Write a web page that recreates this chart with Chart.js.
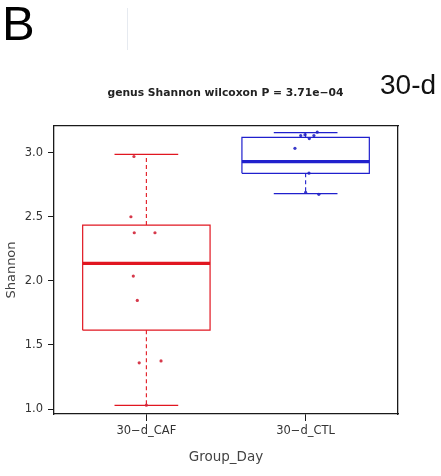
<!DOCTYPE html>
<html>
<head>
<meta charset="utf-8">
<script src="https://cdn.jsdelivr.net/npm/chart.js@4/dist/chart.umd.min.js"></script>
<style>
  body { margin: 0; background: #fff; }
  #wrap { position: relative; width: 441px; height: 476px; }
  #chart { position: absolute; left: 0; top: 0; }
  .txt { position: absolute; white-space: nowrap; line-height: 1; }
  #panel { left: 2px; top: -5px; font: 49px 'Liberation Sans', Arial, sans-serif; color: #000; }
  #tag { left: 380px; top: 69px; font: 28px 'Liberation Sans', Arial, sans-serif; color: #111; }
  #title { left: 0; width: 451px; text-align: center; top: 86px;
           font: bold 10.75px 'DejaVu Sans', sans-serif; color: #222; }
  #mark { position: absolute; left: 127px; top: 8px; width: 1px; height: 42px; background: #e6eaf0; }
</style>
</head>
<body>
<div id="wrap">
  <canvas id="chart" width="441" height="476"></canvas>
  <div class="txt" id="panel">B</div>
  <div id="mark"></div>
  <div class="txt" id="title">genus Shannon wilcoxon P = 3.71e−04</div>
  <div class="txt" id="tag">30-d</div>
</div>
<script>
// группы и статистика боксплотов
const groups = ['30−d_CAF', '30−d_CTL'];
const whiskerLow = [1.029, 2.68];
const q1 = [1.615, 2.839];
const median = [2.136, 2.93];
const q3 = [2.435, 3.12];
const whiskerHigh = [2.987, 3.156];

// отдельные точки и их сдвиг по x (jitter)
const cafValues = [2.97, 2.50, 2.375, 2.375, 2.037, 1.847, 1.36, 1.375, 1.03];
const cafJitter = [-0.078, -0.097, -0.076, 0.054, -0.082, -0.057, -0.045, 0.092, 0.0];
const ctlValues = [3.16, 3.133, 3.14, 3.133, 3.11, 3.034, 2.84, 2.69, 2.675];
const ctlJitter = [0.073, -0.031, -0.004, 0.052, 0.023, -0.067, 0.021, 0.0, 0.083];

const yTicks = [1.0, 1.5, 2.0, 2.5, 3.0];

const colors = ['rgb(225, 22, 32)', 'rgb(32, 32, 205)'];
const pointColors = ['rgba(210, 35, 55, 0.9)', 'rgba(35, 35, 195, 0.9)'];
const font = "'DejaVu Sans', sans-serif";
const axisColor = '#1a1a1a';

function line(points, color, width, dash) {
  return {
    data: points,
    showLine: true,
    borderColor: color,
    borderWidth: width,
    borderDash: dash || [],
    pointRadius: 0,
    fill: false,
  };
}

// боксплот одной группы собираем из линий
function boxDatasets(i) {
  const x = i + 1;
  const c = colors[i];
  return [
    line([{x: x - 0.4, y: q1[i]}, {x: x + 0.4, y: q1[i]}, {x: x + 0.4, y: q3[i]},
          {x: x - 0.4, y: q3[i]}, {x: x - 0.4, y: q1[i]}], c, 1.2),
    line([{x: x - 0.4, y: median[i]}, {x: x + 0.4, y: median[i]}], c, 3.2),
    line([{x: x, y: q3[i]}, {x: x, y: whiskerHigh[i]}], c, 1.1, [4, 3]),
    line([{x: x, y: q1[i]}, {x: x, y: whiskerLow[i]}], c, 1.1, [4, 3]),
    line([{x: x - 0.2, y: whiskerHigh[i]}, {x: x + 0.2, y: whiskerHigh[i]}], c, 1.3),
    line([{x: x - 0.2, y: whiskerLow[i]}, {x: x + 0.2, y: whiskerLow[i]}], c, 1.3),
  ];
}

function pointDataset(values, jitter, i) {
  return {
    data: values.map((v, k) => ({x: i + 1 + jitter[k], y: v})),
    showLine: false,
    pointRadius: 1.6,
    pointBorderWidth: 0,
    pointBackgroundColor: pointColors[i],
  };
}

const datasets = [
  pointDataset(cafValues, cafJitter, 0),
  pointDataset(ctlValues, ctlJitter, 1),
  ...boxDatasets(0),
  ...boxDatasets(1),
];

new Chart(document.getElementById('chart').getContext('2d'), {
  type: 'scatter',
  data: { datasets: datasets },
  options: {
    responsive: false,
    animation: false,
    layout: { padding: 0 },
    plugins: { legend: { display: false }, tooltip: { enabled: false } },
    scales: {
      x: {
        type: 'linear',
        position: 'bottom',
        min: 0.42,
        max: 2.58,
        afterBuildTicks: (axis) => { axis.ticks = groups.map((g, k) => ({ value: k + 1 })); },
        afterFit: (axis) => { axis.height = 62; },
        ticks: {
          callback: (v) => groups[v - 1],
          font: { family: font, size: 11.5 },
          color: '#333',
          padding: 3,
          maxRotation: 0,
        },
        grid: { drawOnChartArea: false, tickLength: 7, tickColor: axisColor, tickWidth: 1 },
        border: { color: axisColor, width: 1.3 },
        title: {
          display: true,
          text: 'Group_Day',
          font: { family: font, size: 13.5 },
          color: '#444',
          padding: { top: 0, bottom: 10 },
        },
      },
      y: {
        type: 'linear',
        position: 'left',
        min: 0.961,
        max: 3.208,
        afterBuildTicks: (axis) => { axis.ticks = yTicks.map((v) => ({ value: v })); },
        afterFit: (axis) => { axis.width = 54; },
        ticks: {
          callback: (v) => v.toFixed(1),
          font: { family: font, size: 11.5 },
          color: '#333',
          padding: 5,
        },
        grid: { drawOnChartArea: false, tickLength: 6, tickColor: axisColor, tickWidth: 1 },
        border: { color: axisColor, width: 1.3 },
        title: {
          display: true,
          text: 'Shannon',
          font: { family: font, size: 13 },
          color: '#444',
          padding: { top: 4, bottom: 0 },
        },
      },
      // верх и правый край рамки
      xTop: {
        type: 'linear',
        position: 'top',
        display: true,
        min: 0.42,
        max: 2.58,
        afterFit: (axis) => { axis.height = 126; },
        ticks: { display: false },
        grid: { display: false, drawTicks: false },
        border: { color: axisColor, width: 1.3 },
      },
      yRight: {
        type: 'linear',
        position: 'right',
        display: true,
        min: 0.961,
        max: 3.208,
        afterFit: (axis) => { axis.width = 43; },
        ticks: { display: false },
        grid: { display: false, drawTicks: false },
        border: { color: axisColor, width: 1.3 },
      },
    },
  },
});
</script>
</body>
</html>
